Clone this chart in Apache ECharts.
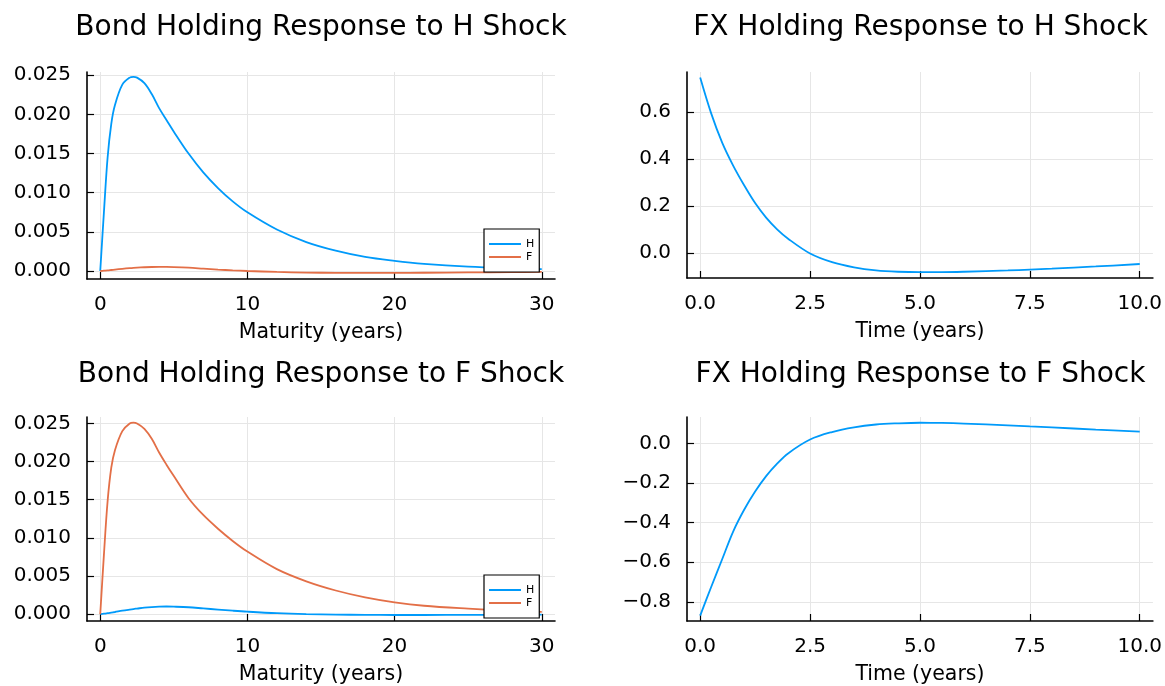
<!DOCTYPE html>
<html>
<head>
<meta charset="utf-8">
<title>Holding responses</title>
<script src="https://cdn.jsdelivr.net/npm/echarts@6/dist/echarts.min.js"></script>
<style>
  html, body { margin: 0; padding: 0; background: #fff; }
  #chart { width: 1165px; height: 686px; }
</style>
</head>
<body>
<div id="chart"></div>
<script>
// bond maturities (years)
const maturity = [0, 0.25, 0.5, 0.75, 1, 1.5, 2, 2.25, 2.5, 3, 3.5, 4, 4.5, 5, 6, 7, 8, 9, 10, 12, 14, 16, 18, 20, 22, 25, 28, 30];
// bond holdings after an H shock
const bondHShockH = [0, 0.0075, 0.0145, 0.0188, 0.0212, 0.0238, 0.0247, 0.0248, 0.0247, 0.0240, 0.0226, 0.0208, 0.0193, 0.0178, 0.0150, 0.0126, 0.0106, 0.0089, 0.0075, 0.0053, 0.0037, 0.0026, 0.0018, 0.0013, 0.00092, 0.00055, 0.00033, 0.00023];
const bondHShockF = [0, 0.00004, 0.00008, 0.00013, 0.00018, 0.00028, 0.00037, 0.00041, 0.00044, 0.00048, 0.00051, 0.00052, 0.00052, 0.0005, 0.00042, 0.0003, 0.00018, 0.00008, 0, -0.00012, -0.0002, -0.00024, -0.00025, -0.00024, -0.00022, -0.00018, -0.00014, -0.0001];
// bond holdings after an F shock
const bondFShockH = [0, 0.00006, 0.00012, 0.0002, 0.00028, 0.00045, 0.0006, 0.00067, 0.00073, 0.00085, 0.00093, 0.00098, 0.001, 0.00098, 0.0009, 0.00075, 0.0006, 0.00045, 0.00032, 0.00012, 0, -0.00006, -0.0001, -0.00011, -0.00011, -0.0001, -0.00008, -0.00007];
const bondFShockF = [0, 0.0078, 0.0148, 0.0192, 0.0215, 0.0240, 0.0250, 0.0251, 0.0250, 0.0243, 0.0230, 0.0212, 0.0196, 0.0181, 0.0152, 0.0130, 0.0112, 0.0096, 0.0082, 0.0059, 0.0043, 0.0031, 0.0022, 0.00155, 0.0011, 0.00072, 0.00042, 0.0003];

// FX holdings over time (years)
const time = [0, 0.25, 0.5, 0.75, 1, 1.25, 1.5, 1.75, 2, 2.5, 3, 3.5, 4, 4.5, 5, 5.5, 6, 7, 7.5, 8, 9, 10];
const fxHShock = [0.748, 0.595, 0.47, 0.372, 0.288, 0.212, 0.15, 0.1, 0.06, -0.003, -0.04, -0.062, -0.075, -0.081, -0.083, -0.0828, -0.081, -0.0755, -0.072, -0.068, -0.0585, -0.048];
const fxFShock = [-0.87, -0.725, -0.585, -0.445, -0.335, -0.243, -0.165, -0.102, -0.05, 0.02, 0.058, 0.082, 0.096, 0.102, 0.105, 0.104, 0.101, 0.092, 0.087, 0.082, 0.07, 0.06];

const titles = [
  'Bond Holding Response to H Shock',
  'FX Holding Response to H Shock',
  'Bond Holding Response to F Shock',
  'FX Holding Response to F Shock'
];
const bondTicksX = [0, 10, 20, 30];
const bondTicksY = [0, 0.005, 0.01, 0.015, 0.02, 0.025];
const fxTicksX = [0, 2.5, 5, 7.5, 10];
const fxHTicksY = [0, 0.2, 0.4, 0.6];
const fxFTicksY = [-0.8, -0.6, -0.4, -0.2, 0];

const font = 'DejaVu Sans';
const blue = '#009AFA';
const orange = '#E36F47';

// plot areas, pixel positions
const grids = [
  { left: 87, top: 72, width: 468, height: 207 },
  { left: 687, top: 72, width: 467, height: 206 },
  { left: 87, top: 417, width: 468, height: 207 },
  { left: 687, top: 417, width: 467, height: 207 }
];

const pairs = (xs, ys) => xs.map((x, i) => [x, ys[i]]);

function axis(gridIndex, min, max, ticks, digits, name) {
  return {
    type: 'value',
    gridIndex: gridIndex,
    min: min,
    max: max,
    name: name,
    nameLocation: 'middle',
    nameGap: 43,
    nameTextStyle: { fontSize: 20.5, color: '#000', fontFamily: font },
    axisLine: { show: true, onZero: false, lineStyle: { color: '#000', width: 1.6 } },
    axisTick: { show: true, inside: true, length: 7, customValues: ticks, lineStyle: { color: '#000', width: 1.2 } },
    axisLabel: {
      customValues: ticks,
      fontSize: 20,
      color: '#000',
      margin: 16,
      fontFamily: font,
      formatter: v => v.toFixed(digits).replace('-', '\u2212')
    },
    splitLine: { show: true, customValues: ticks, lineStyle: { color: '#e6e6e6', width: 1 } }
  };
}

function line(name, color, idx, data) {
  return {
    type: 'line',
    name: name,
    xAxisIndex: idx,
    yAxisIndex: idx,
    data: data,
    showSymbol: false,
    smooth: 0.35,
    lineStyle: { width: 1.8, color: color },
    itemStyle: { color: color }
  };
}

function legend(top) {
  return {
    data: ['H', 'F'],
    orient: 'vertical',
    left: 484,
    top: top,
    icon: 'rect',
    itemWidth: 32,
    itemHeight: 2,
    itemGap: 1,
    padding: [9, 5, 9, 5],
    borderColor: '#000',
    borderWidth: 1.2,
    borderRadius: 0,
    backgroundColor: '#fff',
    selectedMode: false,
    textStyle: { fontSize: 11, lineHeight: 12, color: '#000', fontFamily: font }
  };
}

const chart = echarts.init(document.getElementById('chart'));
chart.setOption({
  animation: false,
  backgroundColor: '#fff',
  title: titles.map((t, i) => ({
    text: t,
    left: grids[i].left + grids[i].width / 2,
    top: i < 2 ? 14 : 361,
    textAlign: 'center',
    padding: 0,
    textStyle: { fontSize: 28, fontWeight: 'normal', color: '#000', fontFamily: font }
  })),
  grid: grids,
  xAxis: [
    axis(0, -0.9, 30.9, bondTicksX, 0, 'Maturity (years)'),
    axis(1, -0.3, 10.3, fxTicksX, 1, 'Time (years)'),
    axis(2, -0.9, 30.9, bondTicksX, 0, 'Maturity (years)'),
    axis(3, -0.3, 10.3, fxTicksX, 1, 'Time (years)')
  ],
  yAxis: [
    axis(0, -0.00102, 0.02542, bondTicksY, 3),
    axis(1, -0.1077, 0.7715, fxHTicksY, 1),
    axis(2, -0.0009, 0.02585, bondTicksY, 3),
    axis(3, -0.897, 0.134, fxFTicksY, 1)
  ],
  legend: [legend(229), legend(575)],
  series: [
    line('H', blue, 0, pairs(maturity, bondHShockH)),
    line('F', orange, 0, pairs(maturity, bondHShockF)),
    line('y1', blue, 1, pairs(time, fxHShock)),
    line('H', blue, 2, pairs(maturity, bondFShockH)),
    line('F', orange, 2, pairs(maturity, bondFShockF)),
    line('y1', blue, 3, pairs(time, fxFShock))
  ]
});
</script>
</body>
</html>
